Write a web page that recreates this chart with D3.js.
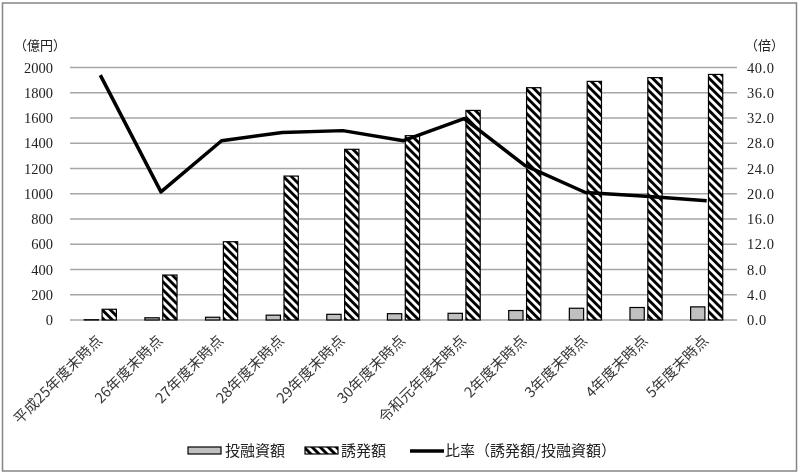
<!DOCTYPE html>
<html><head><meta charset="utf-8">
<script src="https://cdn.jsdelivr.net/npm/d3@7/dist/d3.min.js"></script>
<style>body{margin:0;background:#fff}svg{display:block;will-change:transform}</style>
</head><body>
<svg id="c" width="800" height="475"></svg>
<script>
const categories = ["平成25年度末時点","26年度末時点","27年度末時点","28年度末時点","29年度末時点","30年度末時点","令和元年度末時点","2年度末時点","3年度末時点","4年度末時点","5年度末時点"];
const investment = [2.2, 17.5, 21.8, 38.4, 45, 50, 53, 75, 93, 99, 104];
const induced = [85, 356, 620, 1140, 1352, 1460, 1660, 1840, 1890, 1920, 1945];
const ratio = [38.8, 20.3, 28.4, 29.7, 30.0, 28.4, 31.9, 24.5, 20.2, 19.6, 18.9];
const leftTicks = [0,200,400,600,800,1000,1200,1400,1600,1800,2000];
const rightTicks = [0,4,8,12,16,20,24,28,32,36,40];
const seriesNames = ["投融資額","誘発額","比率（誘発額/投融資額）"];

const svg = d3.select("#c");
const FONT_NUM = "'Liberation Serif','DejaVu Serif','Noto Sans CJK JP',serif";
const FONT_JP = "'Noto Sans CJK JP',sans-serif";

const defs = svg.append("defs");
const pat = defs.append("pattern").attr("id","hatch").attr("patternUnits","userSpaceOnUse")
  .attr("width",5.7).attr("height",10).attr("patternTransform","rotate(-45)");
pat.append("rect").attr("width",5.7).attr("height",10).attr("fill","#fff");
pat.append("rect").attr("width",2.9).attr("height",10).attr("fill","#000");

svg.append("rect").attr("x",2.5).attr("y",3).attr("width",794).attr("height",468)
  .attr("fill","#fff").attr("stroke","#858585").attr("stroke-width",1.5);

const L=70, R=737, T=67.5, B=320;
const x = d3.scaleBand().domain(categories).range([L,R]).paddingInner(0.47).paddingOuter(0.235);
const xs = d3.scaleBand().domain([0,1]).range([0,x.bandwidth()]).paddingInner(0.2);
const y = d3.scaleLinear().domain([0,2000]).range([B,T]);
const y2 = d3.scaleLinear().domain([0,40]).range([B,T]);

// gridlines
svg.append("g").selectAll("line").data(leftTicks).join("line")
  .attr("x1",L).attr("x2",R).attr("y1",d=>y(d)).attr("y2",d=>y(d))
  .attr("stroke","#a6a6a6").attr("stroke-width",1.3);

// left axis labels
const ly = svg.append("g").attr("transform",`translate(53,0)`)
  .call(d3.axisLeft(y).tickValues(leftTicks).tickFormat(d3.format("d")).tickSize(0).tickPadding(0));
ly.select(".domain").remove();
ly.selectAll("text").attr("font-family",FONT_NUM).attr("font-size",14.5).attr("fill","#222");

const ry = svg.append("g").attr("transform",`translate(747,0)`)
  .call(d3.axisRight(y2).tickValues(rightTicks).tickFormat(d3.format(".1f")).tickSize(0).tickPadding(0));
ry.select(".domain").remove();
ry.selectAll("text").attr("font-family",FONT_NUM).attr("font-size",14.5).attr("fill","#222").attr("letter-spacing","0.5px");

svg.append("text").attr("x",20).attr("y",50).text("（億円）").attr("font-family",FONT_JP)
  .attr("font-size",13).attr("fill","#222").attr("dx","-6");
svg.append("text").attr("x",745).attr("y",50).text("（倍）").attr("font-family",FONT_JP)
  .attr("font-size",13).attr("fill","#222");

// bars
const g = svg.append("g");
categories.forEach((c,i)=>{
  g.append("rect").attr("x",x(c)+xs(0)).attr("width",xs.bandwidth())
    .attr("y",y(investment[i])).attr("height",B-y(investment[i]))
    .attr("fill","#c0c0c0").attr("stroke","#000").attr("stroke-width",1.2);
  g.append("rect").attr("x",x(c)+xs(1)).attr("width",xs.bandwidth())
    .attr("y",y(induced[i])).attr("height",B-y(induced[i]))
    .attr("fill","url(#hatch)").attr("stroke","#000").attr("stroke-width",1.2);
});

// ratio line
const line = d3.line().x((d,i)=>x(categories[i])+x.bandwidth()/2).y(d=>y2(d));
svg.append("path").datum(ratio).attr("d",line).attr("fill","none")
  .attr("stroke","#000").attr("stroke-width",3.5).attr("stroke-linejoin","round");

// x labels
svg.append("g").selectAll("text").data(categories).join("text")
  .attr("transform",d=>`translate(${x(d)+x.bandwidth()/2-1},${338}) rotate(-45)`)
  .attr("text-anchor","end").attr("dy","0.35em")
  .attr("font-family",FONT_JP).attr("font-size",14.5).attr("fill","#333").attr("fill-opacity",0.98).text(d=>d);

// legend
const lg = svg.append("g");
lg.append("rect").attr("x",188).attr("y",447).attr("width",33).attr("height",7)
  .attr("fill","#c0c0c0").attr("stroke","#000").attr("stroke-width",1.2);
lg.append("text").attr("x",225).attr("y",451).attr("dy","0.35em").text(seriesNames[0]);
lg.append("rect").attr("x",305).attr("y",447).attr("width",33).attr("height",7)
  .attr("fill","url(#hatch)").attr("stroke","#000").attr("stroke-width",1.2);
lg.append("text").attr("x",341).attr("y",451).attr("dy","0.35em").text(seriesNames[1]);
lg.append("line").attr("x1",410).attr("x2",444).attr("y1",451).attr("y2",451)
  .attr("stroke","#000").attr("stroke-width",3.5);
lg.append("text").attr("x",445).attr("y",451).attr("dy","0.35em").text(seriesNames[2]);
lg.selectAll("text").attr("font-family",FONT_JP).attr("font-size",15).attr("fill","#222");
</script>
</body></html>
